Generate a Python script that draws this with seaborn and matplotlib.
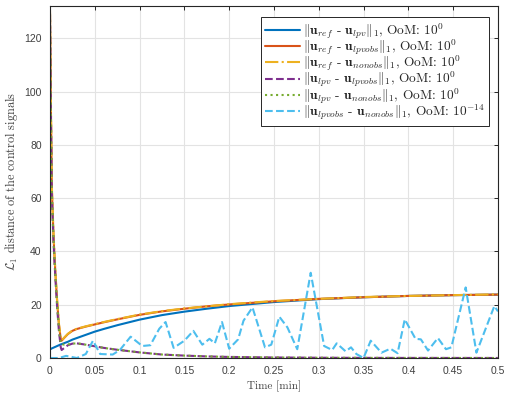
import matplotlib
matplotlib.use("Agg")
import matplotlib.pyplot as plt
import seaborn as sns
import pandas as pd

# time axis for the smooth signals [min]
t_main = [0, 0.001, 0.002, 0.004, 0.006, 0.008, 0.010, 0.012, 0.013, 0.016, 0.020,
          0.025, 0.030, 0.040, 0.050, 0.060, 0.075, 0.100, 0.125, 0.150, 0.175,
          0.200, 0.250, 0.300, 0.350, 0.400, 0.450, 0.500]

ref_lpv = [3.3, 3.4, 3.6, 3.9, 4.2, 4.5, 4.8, 5.1, 5.2, 5.6, 6.1,
           6.9, 7.5, 8.7, 9.9, 10.9, 12.3, 14.4, 16.1, 17.4, 18.5,
           19.5, 21.0, 22.1, 22.8, 23.3, 23.6, 23.8]
ref_lpvobs = [129.5, 94, 64, 45, 32, 21, 12.5, 7.2, 6.5, 7.6, 9.0,
              10.2, 10.9, 11.8, 12.6, 13.4, 14.5, 16.2, 17.5, 18.5, 19.4,
              20.1, 21.3, 22.2, 22.8, 23.3, 23.6, 23.8]
ref_nonobs = [130.5, 95, 65, 46, 32.5, 21.5, 12.8, 7.3, 6.6, 7.7, 9.1,
              10.3, 11.0, 11.9, 12.7, 13.5, 14.6, 16.3, 17.6, 18.6, 19.4,
              20.2, 21.4, 22.2, 22.9, 23.3, 23.6, 23.9]
lpv_lpvobs = [129, 92, 62, 43, 30, 19, 10, 4.0, 3.0, 3.8, 4.8,
              5.4, 5.5, 5.0, 4.4, 3.8, 3.1, 2.1, 1.3, 0.9, 0.6,
              0.4, 0.2, 0.1, 0.05, 0.03, 0.02, 0.01]
lpv_nonobs = [129, 93, 63, 44, 31, 20, 11, 5.5, 5.2, 5.0, 5.1,
              5.4, 5.5, 5.0, 4.4, 3.8, 3.1, 2.1, 1.3, 0.9, 0.6,
              0.4, 0.2, 0.1, 0.05, 0.03, 0.02, 0.01]

# lpvobs vs nonobs difference (scaled, OoM 1e-14)
t_noise = [0.000, 0.010, 0.018, 0.030, 0.040, 0.048, 0.056, 0.070, 0.078, 0.090,
           0.103, 0.112, 0.122, 0.129, 0.138, 0.150, 0.160, 0.170, 0.178, 0.184,
           0.192, 0.200, 0.210, 0.216, 0.226, 0.240, 0.247, 0.256, 0.265, 0.276,
           0.291, 0.306, 0.315, 0.320, 0.330, 0.336, 0.342, 0.350, 0.358, 0.370,
           0.380, 0.388, 0.396, 0.408, 0.414, 0.422, 0.433, 0.442, 0.448, 0.464,
           0.476, 0.496, 0.500]
lpvobs_nonobs = [0.0, 0.0, 0.8, 0.0, 1.5, 6.5, 1.5, 1.3, 3.0, 8.0,
                 4.5, 4.8, 11.0, 13.5, 3.8, 6.5, 10.2, 5.0, 7.2, 5.5,
                 13.5, 3.5, 7.0, 14.0, 19.0, 4.0, 5.0, 15.5, 11.5, 3.3,
                 32.0, 4.5, 3.0, 5.5, 2.5, 4.0, 1.5, 0.0, 6.5, 2.0,
                 3.5, 1.8, 14.5, 7.2, 7.0, 2.8, 7.5, 3.3, 4.0, 26.5,
                 2.0, 19.5, 17.5]

labels = [
    r'$\|\mathbf{u}_{ref}$ - $\mathbf{u}_{lpv}\|_1$, OoM: $10^0$',
    r'$\|\mathbf{u}_{ref}$ - $\mathbf{u}_{lpvobs}\|_1$, OoM: $10^0$',
    r'$\|\mathbf{u}_{ref}$ - $\mathbf{u}_{nonobs}\|_1$, OoM: $10^0$',
    r'$\|\mathbf{u}_{lpv}$ - $\mathbf{u}_{lpvobs}\|_1$, OoM: $10^0$',
    r'$\|\mathbf{u}_{lpv}$ - $\mathbf{u}_{nonobs}\|_1$, OoM: $10^0$',
    r'$\|\mathbf{u}_{lpvobs}$ - $\mathbf{u}_{nonobs}\|_1$, OoM: $10^{-14}$',
]

sns.set_style("white")
plt.rcParams['mathtext.fontset'] = 'cm'
plt.rcParams['axes.unicode_minus'] = False

fig = plt.figure(figsize=(5.05, 3.98), dpi=100)
ax = fig.add_axes([0.099, 0.1005, 0.887, 0.8855])

series = [
    (t_main, ref_lpv, '#0072BD', '-'),
    (t_main, ref_lpvobs, '#D95319', '-'),
    (t_main, ref_nonobs, '#EDB120', '-.'),
    (t_main, lpv_lpvobs, '#7E2F8E', '--'),
    (t_main, lpv_nonobs, '#77AC30', ':'),
    (t_noise, lpvobs_nonobs, '#4DBEEE', '--'),
]
for (tt, yy, col, ls), lab in zip(series, labels):
    df = pd.DataFrame({'t': tt, 'v': yy})
    sns.lineplot(data=df, x='t', y='v', color=col, linestyle=ls, linewidth=1.5,
                 label=lab, ax=ax)

ax.set_xlim(0, 0.5)
ax.set_ylim(0, 132.3)
ax.set_xticks([0, 0.05, 0.1, 0.15, 0.2, 0.25, 0.3, 0.35, 0.4, 0.45, 0.5])
ax.set_xticklabels(['0', '0.05', '0.1', '0.15', '0.2', '0.25', '0.3', '0.35', '0.4', '0.45', '0.5'])
ax.set_yticks([0, 20, 40, 60, 80, 100, 120])
ax.grid(True, color='#e3e3e3', linewidth=0.8)
ax.set_axisbelow(True)
ax.tick_params(direction='in', length=3, width=0.7, colors='#262626', labelcolor='#404040',
               top=True, right=True, labelsize=7.5, pad=6)
for lbl in ax.get_xticklabels() + ax.get_yticklabels():
    lbl.set_family(['Liberation Sans', 'DejaVu Sans'])
for sp in ax.spines.values():
    sp.set_visible(True)
    sp.set_color('#262626')
    sp.set_linewidth(0.8)

cm_font = ['cmr10', 'DejaVu Serif']
ax.set_xlabel('Time [min]', family=cm_font, fontsize=8, color='#404040', labelpad=3)
ax.set_ylabel(r'$\mathcal{L}_1$ distance of the control signals', family=cm_font,
              fontsize=8.8, color='#404040', labelpad=3)

leg = ax.legend(loc='upper right', bbox_to_anchor=(0.98, 0.967), borderaxespad=0,
                fancybox=False, framealpha=1, edgecolor='#262626',
                prop={'family': cm_font, 'size': 9.6}, handlelength=2.6,
                labelspacing=-0.25, handletextpad=0.25, borderpad=0.3)
leg.get_frame().set_linewidth(0.7)

fig.savefig('out.png', dpi=100)
